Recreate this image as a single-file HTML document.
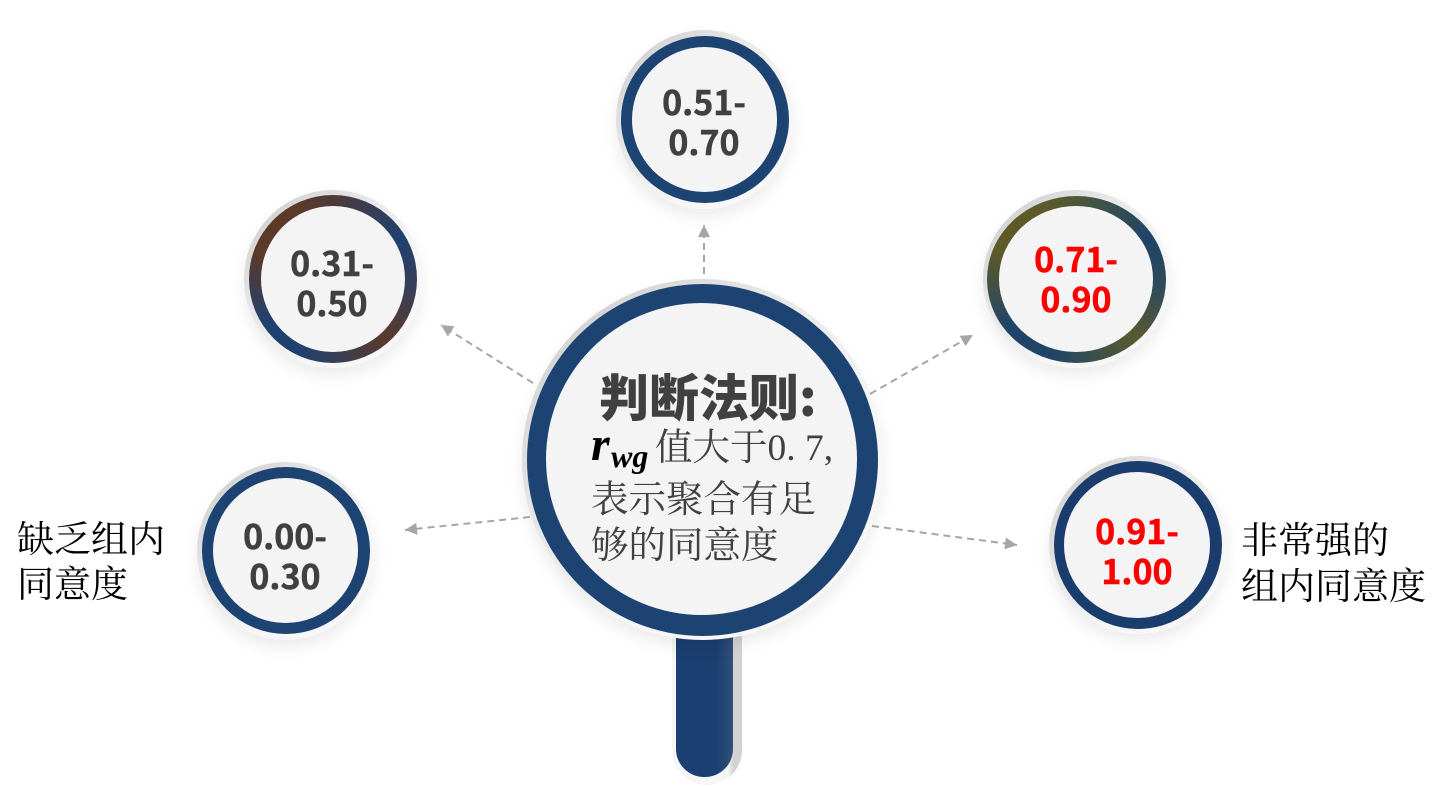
<!DOCTYPE html>
<html lang="zh">
<head>
<meta charset="utf-8">
<title>判断法则</title>
<style>
html,body{margin:0;padding:0;background:#fff;}
#stage{position:relative;width:1447px;height:786px;overflow:hidden;background:#fff;}
.disc{position:absolute;border-radius:50%;box-sizing:border-box;}
.halo{background:linear-gradient(135deg,#c9c9c9 0%,#e6e6e6 35%,#f6f6f6 65%,#f8f8f8 100%);box-shadow:0 8px 16px rgba(0,0,0,.08);}
.ring{background:#1d4373;}
.face{background:#f4f4f4;}
svg{position:absolute;left:0;top:0;}
.num{font-family:"Noto Sans CJK SC",sans-serif;font-weight:700;font-size:34px;text-anchor:middle;stroke-width:.5px;}
.dark{fill:#404040;stroke:#404040;}
.red{fill:#ff0000;stroke:#ff0000;}
.serif{font-family:"Liberation Serif","Noto Serif CJK SC",serif;font-size:37.5px;}
.label{font-family:"Liberation Serif","Noto Serif CJK SC",serif;font-size:37px;fill:#000;}
</style>
</head>
<body>
<div id="stage">

  <!-- magnifier handle -->
  <div style="position:absolute;left:672px;top:620px;width:70px;height:165px;border-radius:0 0 35px 35px;background:linear-gradient(90deg,#f6f6f6 0%,#f6f6f6 80%,#d2d2d2 88%,#d2d2d2 100%);"></div>
  <div style="position:absolute;left:676px;top:620px;width:57px;height:157px;border-radius:0 0 28px 28px;background:linear-gradient(90deg,#1b3f70 0%,#1b3f70 70%,#32507a 100%);"></div>

  <!-- main lens -->
  <div class="disc halo" style="left:522px;top:279px;width:361px;height:361px;"></div>
  <div class="disc" style="left:527px;top:284px;width:351px;height:352px;background:radial-gradient(circle at 50% 50%,#1d4373 0%,#1d4373 92%,#2f4f7a 96%,#3d5878 100%);"></div>
  <div class="disc face" style="left:546px;top:303px;width:311px;height:312px;"></div>

  <!-- 0.51-0.70 -->
  <div class="disc halo" style="left:616px;top:30px;width:177px;height:179px;"></div>
  <div class="disc ring" style="left:621px;top:36px;width:168px;height:167px;"></div>
  <div class="disc face" style="left:632px;top:47px;width:145px;height:145px;"></div>

  <!-- 0.31-0.50 -->
  <div class="disc halo" style="left:244px;top:190px;width:178px;height:178px;"></div>
  <div class="disc" style="left:249px;top:195px;width:168px;height:168px;background:conic-gradient(from 0deg,#4f3a3a 0deg,#1f4170 60deg,#3a3e55 100deg,#5a3a2c 140deg,#1f4170 205deg,#1f4170 235deg,#5b3a2a 290deg,#5b3a2a 330deg,#4f3a3a 360deg);"></div>
  <div class="disc face" style="left:261px;top:206px;width:144px;height:146px;"></div>

  <!-- 0.71-0.90 -->
  <div class="disc halo" style="left:983px;top:190px;width:187px;height:178px;"></div>
  <div class="disc" style="left:987px;top:196px;width:179px;height:167px;background:conic-gradient(from 0deg,#4c5838 0deg,#1f4468 60deg,#2f4a5a 95deg,#5a5a30 135deg,#1f4468 200deg,#1f4468 235deg,#5e5a28 290deg,#5e5a28 330deg,#4c5838 360deg);"></div>
  <div class="disc face" style="left:999px;top:206px;width:154px;height:146px;"></div>

  <!-- 0.00-0.30 -->
  <div class="disc halo" style="left:197px;top:462px;width:177px;height:178px;"></div>
  <div class="disc ring" style="left:202px;top:467px;width:168px;height:167px;"></div>
  <div class="disc face" style="left:213px;top:478px;width:145px;height:145px;"></div>

  <!-- 0.91-1.00 -->
  <div class="disc halo" style="left:1049px;top:456px;width:178px;height:178px;"></div>
  <div class="disc" style="left:1054px;top:461px;width:168px;height:168px;background:#1b3d6e;"></div>
  <div class="disc face" style="left:1064px;top:472px;width:146px;height:146px;"></div>

  <svg width="1447" height="786" viewBox="0 0 1447 786">
    <defs>
      <marker id="tip" markerUnits="userSpaceOnUse" markerWidth="14" markerHeight="12" refX="12" refY="6" orient="auto">
        <path d="M0 0 L12 6 L0 12 Z" fill="#a6a6a6"/>
      </marker>
    </defs>
    <g stroke="#a6a6a6" stroke-width="2" stroke-dasharray="7 5" fill="none">
      <line x1="704" y1="274" x2="704" y2="225" marker-end="url(#tip)"/>
      <line x1="533" y1="383" x2="441" y2="325" marker-end="url(#tip)"/>
      <line x1="870" y1="394" x2="973" y2="335" marker-end="url(#tip)"/>
      <line x1="530" y1="517" x2="405" y2="530" marker-end="url(#tip)"/>
      <line x1="872" y1="526" x2="1017" y2="545" marker-end="url(#tip)"/>
    </g>

    <g>
      <text class="num dark" x="704" y="115">0.51-</text>
      <text class="num dark" x="704" y="155">0.70</text>
    </g>
    <g>
      <text class="num dark" x="332" y="276">0.31-</text>
      <text class="num dark" x="332" y="316">0.50</text>
    </g>
    <g>
      <text class="num red" x="1076" y="272">0.71-</text>
      <text class="num red" x="1076" y="312">0.90</text>
    </g>
    <g>
      <text class="num dark" x="285" y="549">0.00-</text>
      <text class="num dark" x="285" y="589">0.30</text>
    </g>
    <g>
      <text class="num red" x="1137" y="544">0.91-</text>
      <text class="num red" x="1137" y="584">1.00</text>
    </g>

    <text x="599" y="416" style="font-family:'Noto Sans CJK SC',sans-serif;font-weight:900;font-size:50px;fill:#404040;">判断法则:</text>
    <text x="591" y="460" style="font-family:'Liberation Serif',serif;font-weight:700;font-style:italic;font-size:48px;fill:#000;">r</text>
    <text x="611" y="467" style="font-family:'Liberation Serif',serif;font-weight:700;font-style:italic;font-size:32px;fill:#000;">wg</text>
    <text class="serif" x="655" y="460" style="fill:#404040;">值大于0. 7,</text>
    <text class="serif" x="591" y="512" style="fill:#404040;">表示聚合有足</text>
    <text class="serif" x="591" y="558" style="fill:#404040;">够的同意度</text>

    <g>
      <text class="label" x="17" y="552">缺乏组内</text>
      <text class="label" x="17" y="597">同意度</text>
    </g>
    <g>
      <text class="label" x="1241" y="553">非常强的</text>
      <text class="label" x="1241" y="599">组内同意度</text>
    </g>
  </svg>
</div>
</body>
</html>
